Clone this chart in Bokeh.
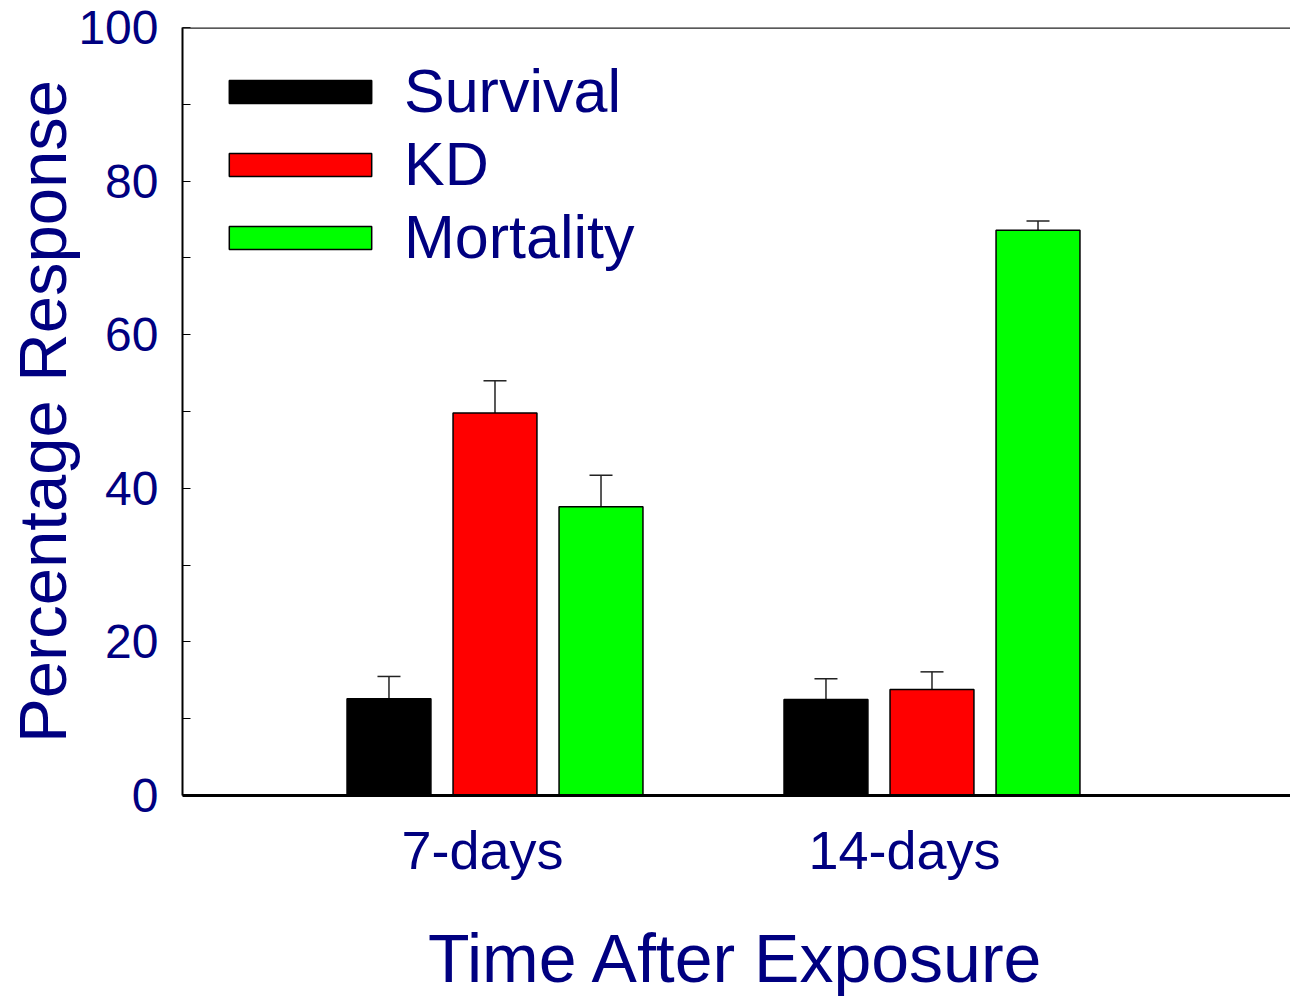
from bokeh.plotting import figure
from bokeh.models import (Range1d, FixedTicker, Whisker, TeeHead, ColumnDataSource,
                          Legend, LegendItem, Span)
from bokeh.embed import file_html
from bokeh.resources import INLINE

# ---- data ----
groups = ["7-days", "14-days"]
series = ["Survival", "KD", "Mortality"]
colors = ["#000000", "#ff0000", "#00ff00"]
survival = [12.6, 12.5]
kd = [49.8, 13.8]
mortality = [37.6, 73.6]
survival_err = [2.9, 2.7]
kd_err = [4.2, 2.3]
mortality_err = [4.1, 1.2]
y_ticks = [0, 20, 40, 60, 80, 100]

values = [survival, kd, mortality]
errors = [survival_err, kd_err, mortality_err]

# ---- layout constants ----
offsets = [-0.2426, 0.0, 0.2426]
bar_w = 0.192
label_pos = [0.9714, 1.937]
NAVY = "#000080"
FONT = "Liberation Sans"

p = figure(width=1290, height=998, output_backend="svg", toolbar_location=None,
           x_range=Range1d(0.2849, 2.8204), y_range=Range1d(0, 100),
           min_border_left=182, min_border_top=27, min_border_bottom=203,
           min_border_right=0)
p.outline_line_color = None
p.grid.visible = False
p.background_fill_color = "white"
p.border_fill_color = "white"

items = []
for k, name in enumerate(series):
    xs = [i + 1 + offsets[k] for i in range(len(groups))]
    src = ColumnDataSource(dict(x=xs, top=values[k],
                                upper=[v + e for v, e in zip(values[k], errors[k])]))
    r = p.vbar(x="x", top="top", bottom=0, width=bar_w, source=src,
               fill_color=colors[k], line_color="black", line_width=1.5)
    items.append(LegendItem(label=name, renderers=[r]))
    w = Whisker(base="x", lower="top", upper="upper", source=src,
                line_color="#222222", line_width=1.5, lower_head=None,
                upper_head=TeeHead(size=23, line_color="#222222", line_width=1.5))
    p.add_layout(w)

# top border line
p.add_layout(Span(location=100, dimension="width", line_color="#222222", line_width=2.5))

# y axis
ya = p.yaxis[0]
ya.ticker = FixedTicker(ticks=y_ticks, minor_ticks=[10, 30, 50, 70, 90])
ya.axis_line_width = 2
ya.axis_line_color = "black"
ya.major_tick_in = 8
ya.major_tick_out = 0
ya.minor_tick_in = 8
ya.minor_tick_out = 0
ya.major_tick_line_color = "black"
ya.minor_tick_line_color = "black"
ya.major_label_text_font = FONT
ya.major_label_text_font_size = "48px"
ya.major_label_text_color = NAVY
ya.major_label_standoff = 24
ya.axis_label = "Percentage Response"
ya.axis_label_text_font = FONT
ya.axis_label_text_font_size = "67px"
ya.axis_label_text_font_style = "normal"
ya.axis_label_text_color = NAVY
ya.axis_label_standoff = -5

# x axis
xa = p.xaxis[0]
xa.ticker = FixedTicker(ticks=label_pos, minor_ticks=[])
xa.major_label_overrides = {label_pos[i]: groups[i] for i in range(len(groups))}
xa.axis_line_width = 3
xa.axis_line_color = "black"
xa.major_tick_in = 0
xa.major_tick_out = 0
xa.minor_tick_in = 0
xa.minor_tick_out = 0
xa.major_label_text_font = FONT
xa.major_label_text_font_size = "54px"
xa.major_label_text_color = NAVY
xa.major_label_standoff = 24
xa.axis_label = "Time After Exposure"
xa.axis_label_text_font = FONT
xa.axis_label_text_font_size = "68px"
xa.axis_label_text_font_style = "normal"
xa.axis_label_text_color = NAVY
xa.axis_label_standoff = 37

legend = Legend(items=items, location="top_left")
legend.border_line_color = None
legend.background_fill_alpha = 0
legend.padding = 0
legend.margin = 29
legend.spacing = 3
legend.glyph_width = 178
legend.glyph_height = 29
legend.label_standoff = 15
legend.label_text_font = FONT
legend.label_text_font_size = "61px"
legend.label_text_color = NAVY
p.add_layout(legend)

open("out.html", "w").write(file_html(p, INLINE))
